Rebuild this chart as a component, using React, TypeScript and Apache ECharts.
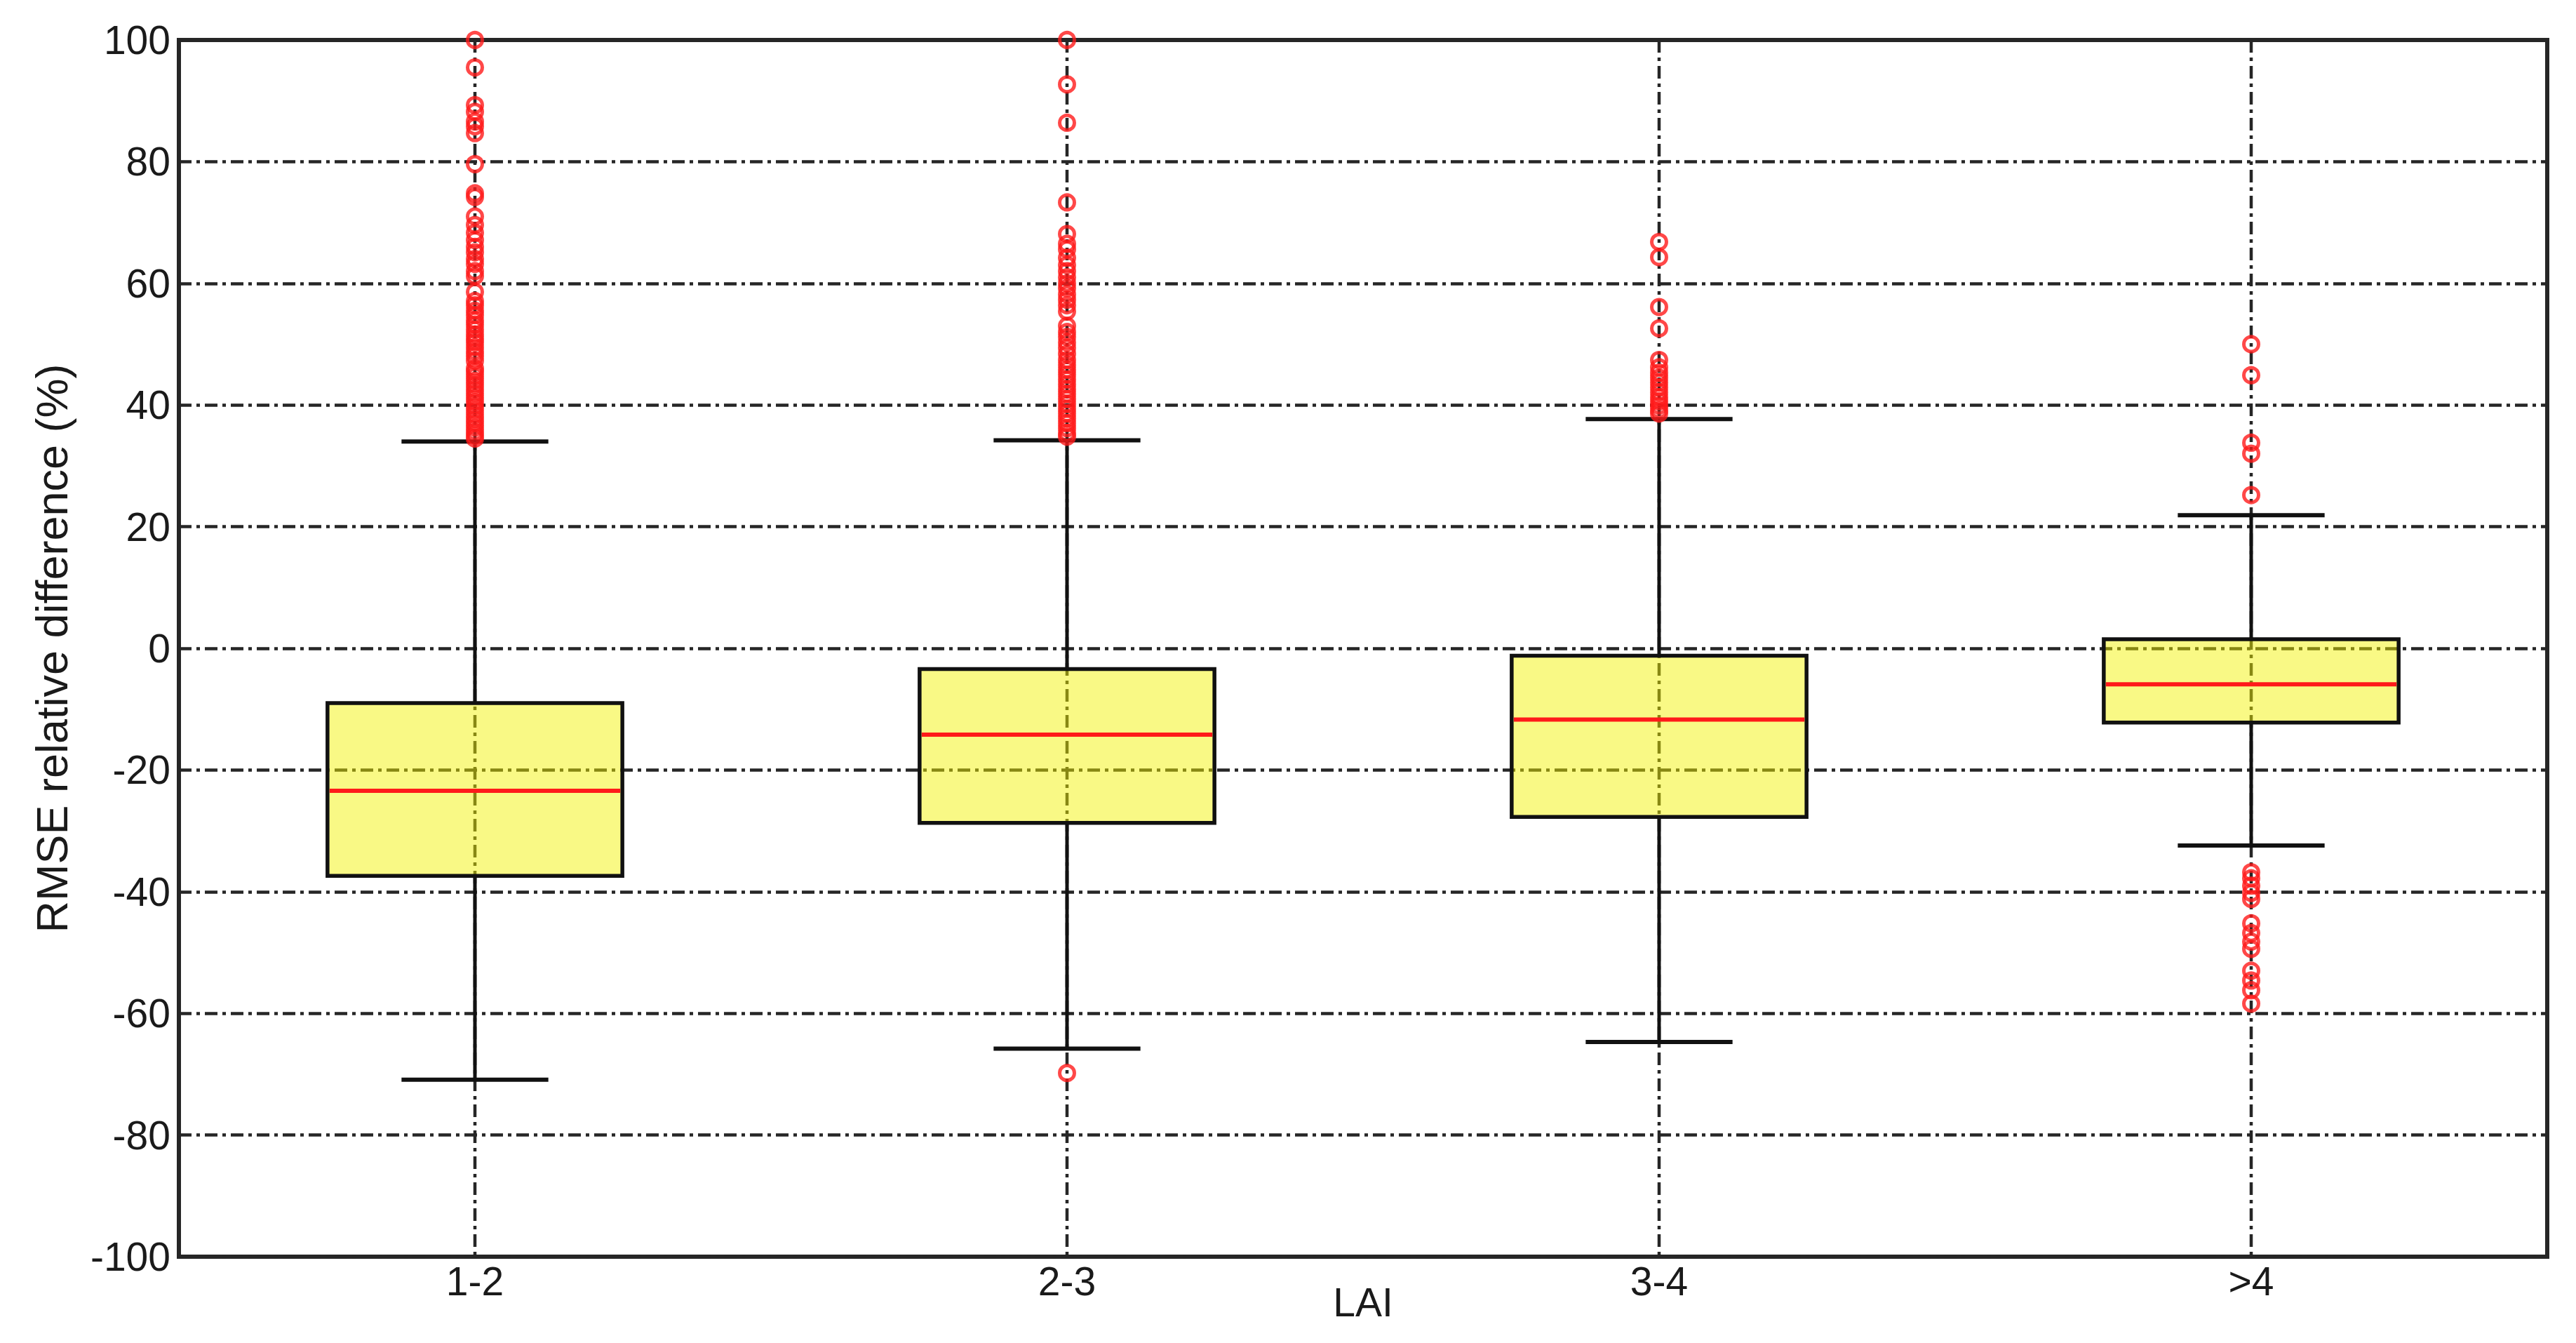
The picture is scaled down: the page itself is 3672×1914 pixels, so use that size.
import React, { useEffect, useRef } from "react";
import * as echarts from "echarts";

const categories = ["1-2", "2-3", "3-4", ">4"];
const whiskerLow = [-70.9, -65.8, -64.7, -32.4];
const quartile1 = [-37.4, -28.7, -27.7, -12.2];
const medians = [-23.4, -14.2, -11.7, -5.9];
const quartile3 = [-9.0, -3.4, -1.2, 1.5];
const whiskerHigh = [34.0, 34.2, 37.7, 21.9];

const outliers12 = [
  100, 95.5, 89.3, 88.2, 86.6, 85.8, 84.7, 79.6, 74.8, 74.2, 71.0, 69.6, 68.3, 67.1, 66.0,
  65.1, 64.0, 63.2, 62.0, 61.2, 58.6, 57.1, 56.4, 55.5, 54.8, 53.9, 53.2, 52.4, 51.6, 50.9,
  50.3, 49.5, 48.8, 48.1, 47.3, 46.0, 45.4, 44.7, 44.0, 43.3, 42.6, 41.9, 41.2, 40.5, 39.8,
  39.1, 38.4, 37.7, 37.0, 36.3, 35.6, 35.0, 34.5,
];
const outliers23 = [
  100, 92.7, 86.4, 73.3, 68.1, 66.5, 65.6, 64.2, 63.0, 62.0, 61.0, 60.0, 59.2, 58.2, 57.3,
  56.4, 55.4, 53.0, 52.0, 51.2, 50.3, 49.4, 48.4, 47.4, 46.6, 45.8, 45.0, 44.2, 43.4, 42.6,
  41.8, 41.0, 40.2, 39.4, 38.6, 37.8, 37.0, 36.2, 35.4, 34.8, -69.8,
];
const outliers34 = [
  66.8, 64.3, 56.1, 52.6, 47.4, 46.2, 45.3, 44.5, 43.7, 42.9, 42.1, 41.3, 40.6, 39.9, 39.2, 38.6,
];
const outliersGt4 = [
  50.0, 44.9, 33.8, 32.0, 25.2, -36.8, -37.8, -39.0, -40.2, -41.2, -45.2, -46.8, -48.2, -49.4,
  -53.0, -54.6, -56.2, -58.4,
];
const outlierGroups = [outliers12, outliers23, outliers34, outliersGt4];

const yMin = -100;
const yMax = 100;
const yInterval = 20;

const xAxisTitle = "LAI";
const yAxisTitle = "RMSE relative difference (%)";

const FONT = "'Liberation Sans', Arial, sans-serif";
const GRID_DASH = [18, 7, 5, 7];
const GRID_COLOR = "#262626";

export default function App() {
  const ref = useRef<HTMLDivElement>(null);

  useEffect(() => {
    if (!ref.current) return;
    const chart = echarts.init(ref.current, null, { renderer: "svg" });

    const boxData = categories.map((_, i) => [
      i,
      whiskerLow[i],
      quartile1[i],
      medians[i],
      quartile3[i],
      whiskerHigh[i],
    ]);
    const outlierData: number[][] = [];
    outlierGroups.forEach((g, i) => g.forEach((v) => outlierData.push([i, v])));

    const renderItem = (params: any, api: any) => {
      const idx = api.value(0);
      const lo = api.value(1);
      const q1 = api.value(2);
      const med = api.value(3);
      const q3 = api.value(4);
      const hi = api.value(5);
      const band = api.size([1, 0])[0];
      const halfBox = band * 0.249;
      const halfCap = band * 0.124;
      const top = api.coord([idx, yMax]);
      const bottom = api.coord([idx, yMin]);
      const pLo = api.coord([idx, lo]);
      const pQ1 = api.coord([idx, q1]);
      const pMed = api.coord([idx, med]);
      const pQ3 = api.coord([idx, q3]);
      const pHi = api.coord([idx, hi]);
      const x = pMed[0];
      return {
        type: "group",
        children: [
          {
            type: "line",
            shape: { x1: x, y1: top[1], x2: x, y2: bottom[1] },
            style: { stroke: GRID_COLOR, lineWidth: 4.5, lineDash: GRID_DASH },
          },
          {
            type: "line",
            shape: { x1: x, y1: pQ3[1], x2: x, y2: pHi[1] },
            style: { stroke: "#111", lineWidth: 5 },
          },
          {
            type: "line",
            shape: { x1: x, y1: pQ1[1], x2: x, y2: pLo[1] },
            style: { stroke: "#111", lineWidth: 5 },
          },
          {
            type: "line",
            shape: { x1: x - halfCap, y1: pHi[1], x2: x + halfCap, y2: pHi[1] },
            style: { stroke: "#111", lineWidth: 6 },
          },
          {
            type: "line",
            shape: { x1: x - halfCap, y1: pLo[1], x2: x + halfCap, y2: pLo[1] },
            style: { stroke: "#111", lineWidth: 6 },
          },
          {
            type: "rect",
            shape: { x: x - halfBox, y: pQ3[1], width: halfBox * 2, height: pQ1[1] - pQ3[1] },
            style: { fill: "rgba(243,243,0,0.48)", stroke: "#111", lineWidth: 5.5 },
          },
          {
            type: "line",
            shape: { x1: x - halfBox + 3, y1: pMed[1], x2: x + halfBox - 3, y2: pMed[1] },
            style: { stroke: "#ff1a1a", lineWidth: 6 },
          },
        ],
      };
    };

    chart.setOption({
      animation: false,
      backgroundColor: "#ffffff",
      grid: {
        left: 255,
        right: 41,
        top: 57,
        bottom: 123,
        outerBoundsMode: "none",
        containLabel: false,
        show: true,
        borderColor: "#262626",
        borderWidth: 6,
        backgroundColor: "transparent",
      },
      xAxis: {
        type: "category",
        data: categories,
        boundaryGap: true,
        name: xAxisTitle,
        nameLocation: "middle",
        nameGap: 36,
        nameMoveOverlap: false,
        nameTextStyle: { fontFamily: FONT, fontSize: 57, color: "#1a1a1a" },
        axisLine: { show: false },
        axisTick: { show: false },
        splitLine: { show: false },
        axisLabel: { fontFamily: FONT, fontSize: 57, color: "#1a1a1a", margin: 6 },
      },
      yAxis: {
        type: "value",
        min: yMin,
        max: yMax,
        interval: yInterval,
        name: yAxisTitle,
        nameLocation: "middle",
        nameGap: 150,
        nameMoveOverlap: false,
        nameTextStyle: { fontFamily: FONT, fontSize: 63, color: "#1a1a1a" },
        axisLine: { show: false },
        axisTick: { show: false },
        axisLabel: { fontFamily: FONT, fontSize: 57, color: "#1a1a1a", margin: 12 },
        splitLine: {
          show: true,
          lineStyle: { color: GRID_COLOR, width: 4.5, type: GRID_DASH },
        },
      },
      series: [
        {
          type: "custom",
          renderItem,
          data: boxData,
          encode: { x: 0, y: [1, 2, 3, 4, 5] },
          z: 2,
        },
        {
          type: "scatter",
          data: outlierData,
          symbol: "circle",
          symbolSize: 21,
          itemStyle: { color: "rgba(255,255,255,0)", borderColor: "#ff1a1a", borderWidth: 5 },
          z: 3,
        },
      ],
    });

    return () => chart.dispose();
  }, []);

  return (
    <div
      ref={ref}
      style={{ position: "absolute", left: 0, top: 0, width: 3672, height: 1914 }}
    />
  );
}
